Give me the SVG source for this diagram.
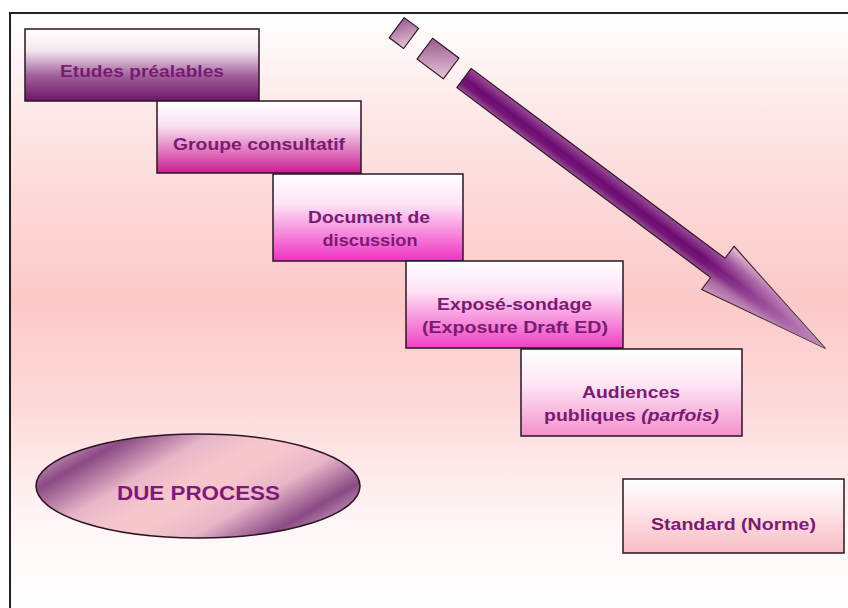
<svg xmlns="http://www.w3.org/2000/svg" width="848" height="608" viewBox="0 0 848 608">
<defs>
<linearGradient id="bg" gradientUnits="userSpaceOnUse" x1="0" y1="13" x2="0" y2="608">
<stop offset="0" stop-color="#ffffff"/>
<stop offset="0.18" stop-color="#fde6e6"/>
<stop offset="0.48" stop-color="#fcc8c8"/>
<stop offset="0.68" stop-color="#fddcdc"/>
<stop offset="0.86" stop-color="#fff6f6"/>
<stop offset="1" stop-color="#ffffff"/>
</linearGradient>
<linearGradient id="g1" x1="0" y1="0" x2="0" y2="1">
<stop offset="0" stop-color="#ffffff"/>
<stop offset="0.3" stop-color="#f4e6ef"/>
<stop offset="0.65" stop-color="#a0609a"/>
<stop offset="1" stop-color="#6c1668"/>
</linearGradient>
<linearGradient id="g2" x1="0" y1="0" x2="0" y2="1">
<stop offset="0" stop-color="#ffffff"/>
<stop offset="0.35" stop-color="#f8e0f0"/>
<stop offset="1" stop-color="#cc1c92"/>
</linearGradient>
<linearGradient id="g3" x1="0" y1="0" x2="0" y2="1">
<stop offset="0" stop-color="#ffffff"/>
<stop offset="0.35" stop-color="#fde2f5"/>
<stop offset="1" stop-color="#f032c2"/>
</linearGradient>
<linearGradient id="g4" x1="0" y1="0" x2="0" y2="1">
<stop offset="0" stop-color="#ffffff"/>
<stop offset="0.35" stop-color="#fde2f5"/>
<stop offset="1" stop-color="#f040c4"/>
</linearGradient>
<linearGradient id="g5" x1="0" y1="0" x2="0" y2="1">
<stop offset="0" stop-color="#ffffff"/>
<stop offset="0.4" stop-color="#fde6f4"/>
<stop offset="1" stop-color="#f590cc"/>
</linearGradient>
<linearGradient id="g6" x1="0" y1="0" x2="0" y2="1">
<stop offset="0" stop-color="#ffffff"/>
<stop offset="0.4" stop-color="#fde6ea"/>
<stop offset="1" stop-color="#f8bcc4"/>
</linearGradient>
<linearGradient id="gEll" gradientUnits="userSpaceOnUse" x1="152" y1="406" x2="244" y2="566">
<stop offset="0" stop-color="#b07aa4"/>
<stop offset="0.08" stop-color="#8a4a84"/>
<stop offset="0.3" stop-color="#e8b6c8"/>
<stop offset="0.45" stop-color="#f6c6cc"/>
<stop offset="0.56" stop-color="#f6c6cc"/>
<stop offset="0.72" stop-color="#e8b6c8"/>
<stop offset="0.92" stop-color="#8a4a84"/>
<stop offset="1" stop-color="#b07aa4"/>
</linearGradient>
<linearGradient id="gArrow" gradientUnits="userSpaceOnUse" x1="0" y1="-27" x2="0" y2="27">
<stop offset="0" stop-color="#f0c6da"/>
<stop offset="0.28" stop-color="#9a4c98"/>
<stop offset="0.5" stop-color="#6c0c72"/>
<stop offset="0.6" stop-color="#741678"/>
<stop offset="0.75" stop-color="#a05a98"/>
<stop offset="1" stop-color="#c890b8"/>
</linearGradient>
<linearGradient id="gTip" gradientUnits="userSpaceOnUse" x1="300" y1="0" x2="451" y2="0">
<stop offset="0" stop-color="#ffe0ee" stop-opacity="0"/>
<stop offset="1" stop-color="#ffe0ee" stop-opacity="0.6"/>
</linearGradient>
<linearGradient id="gSq" x1="0" y1="0" x2="1" y2="1">
<stop offset="0" stop-color="#9a5a90"/>
<stop offset="1" stop-color="#e8c4d8"/>
</linearGradient>
<style>
.box{stroke:#2a1424;stroke-width:1.5}
.t{font-family:"Liberation Sans",Arial,sans-serif;font-weight:bold;font-size:17px;fill:#7a1a72;text-anchor:middle}
.sh{stroke:#2a1a22;stroke-width:1.2;stroke-linejoin:round}
</style>
</defs>
<rect x="0" y="0" width="848" height="608" fill="#ffffff"/>
<rect id="frame" x="10" y="13" width="860" height="620" fill="url(#bg)" stroke="#222" stroke-width="2"/>

<g id="connectors">
<g transform="translate(464,78) rotate(36.8)">
<rect class="sh" x="-84" y="-12.5" width="18" height="25" fill="url(#gSq)"/>
<rect class="sh" x="-49" y="-13" width="33" height="26" fill="url(#gSq)"/>
<polygon class="sh" points="0,-12 317,-12 317,-27 451,0 317,27 317,12 0,12" fill="url(#gArrow)"/>
<polygon points="0,-12 317,-12 317,-27 451,0 317,27 317,12 0,12" fill="url(#gTip)"/>
</g>
</g>

<g id="n1">
<rect class="box" x="25" y="29" width="234" height="72" fill="url(#g1)"/>
<text class="t" x="142" y="77" textLength="164" lengthAdjust="spacingAndGlyphs">Etudes préalables</text>
</g>
<g id="n2">
<rect class="box" x="157" y="101" width="204" height="72" fill="url(#g2)"/>
<text class="t" x="259" y="150" textLength="172" lengthAdjust="spacingAndGlyphs">Groupe consultatif</text>
</g>
<g id="n3">
<rect class="box" x="273" y="174" width="190" height="87" fill="url(#g3)"/>
<text class="t" x="369" y="223" textLength="122" lengthAdjust="spacingAndGlyphs">Document de</text>
<text class="t" x="370" y="246" textLength="95" lengthAdjust="spacingAndGlyphs">discussion</text>
</g>
<g id="n4">
<rect class="box" x="406" y="261" width="217" height="87" fill="url(#g4)"/>
<text class="t" x="514.5" y="310" textLength="155" lengthAdjust="spacingAndGlyphs">Exposé-sondage</text>
<text class="t" x="515" y="333" textLength="186" lengthAdjust="spacingAndGlyphs">(Exposure Draft ED)</text>
</g>
<g id="n5">
<rect class="box" x="521" y="349" width="221" height="87" fill="url(#g5)"/>
<text class="t" x="631" y="398" textLength="98" lengthAdjust="spacingAndGlyphs">Audiences</text>
<text class="t" x="631.5" y="421" textLength="175" lengthAdjust="spacingAndGlyphs">publiques <tspan font-style="italic">(parfois)</tspan></text>
</g>
<g id="n6">
<rect class="box" x="623" y="479" width="221" height="74" fill="url(#g6)"/>
<text class="t" x="733.5" y="530" textLength="165" lengthAdjust="spacingAndGlyphs">Standard (Norme)</text>
</g>
<g id="n7">
<ellipse cx="198" cy="486" rx="162" ry="52" fill="url(#gEll)" stroke="#2a1424" stroke-width="1.5"/>
<text class="t" x="198.5" y="500" style="font-size:21px;fill:#80187a" textLength="163" lengthAdjust="spacingAndGlyphs">DUE PROCESS</text>
</g>
</svg>
